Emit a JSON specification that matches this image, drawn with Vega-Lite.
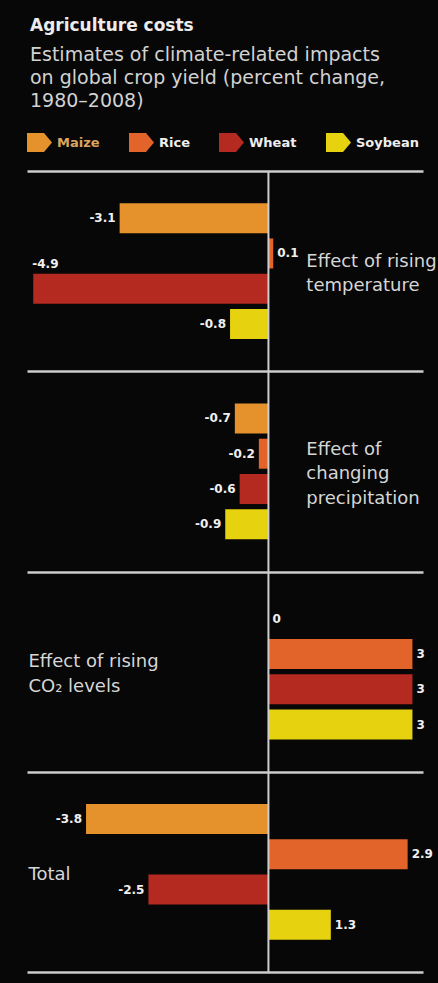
{
  "$schema": "https://vega.github.io/schema/vega-lite/v6.json",
  "width": 396,
  "height": 801,
  "autosize": "none",
  "padding": {"left": 27, "top": 171, "right": 15, "bottom": 11},
  "background": "#070707",
  "config": {
    "view": {"stroke": null},
    "text": {"font": "DejaVu Sans"}
  },
  "title": {
    "text": "Agriculture costs",
    "subtitle": ["Estimates of climate-related impacts", "on global crop yield (percent change,", "1980–2008)"],
    "anchor": "start",
    "dx": 3,
    "offset": 18,
    "font": "DejaVu Sans",
    "fontSize": 17,
    "fontWeight": "bold",
    "color": "#ececec",
    "subtitleFont": "DejaVu Sans",
    "subtitleFontSize": 19,
    "subtitleColor": "#d2d2d2",
    "subtitleLineHeight": 23,
    "subtitlePadding": 11
  },
  "datasets": {
    "yields": [
      {"section": "temperature", "crop": "Maize", "value": -3.1},
      {"section": "temperature", "crop": "Rice", "value": 0.1},
      {"section": "temperature", "crop": "Wheat", "value": -4.9},
      {"section": "temperature", "crop": "Soybean", "value": -0.8},
      {"section": "precipitation", "crop": "Maize", "value": -0.7},
      {"section": "precipitation", "crop": "Rice", "value": -0.2},
      {"section": "precipitation", "crop": "Wheat", "value": -0.6},
      {"section": "precipitation", "crop": "Soybean", "value": -0.9},
      {"section": "co2", "crop": "Maize", "value": 0},
      {"section": "co2", "crop": "Rice", "value": 3},
      {"section": "co2", "crop": "Wheat", "value": 3},
      {"section": "co2", "crop": "Soybean", "value": 3},
      {"section": "total", "crop": "Maize", "value": -3.8},
      {"section": "total", "crop": "Rice", "value": 2.9},
      {"section": "total", "crop": "Wheat", "value": -2.5},
      {"section": "total", "crop": "Soybean", "value": 1.3}
    ],
    "sections": [
      {"section": "temperature", "label": ["Effect of rising", "temperature"]},
      {"section": "precipitation", "label": ["Effect of", "changing", "precipitation"]},
      {"section": "co2", "label": ["Effect of rising", "CO₂ levels"]},
      {"section": "total", "label": ["Total"]}
    ]
  },
  "data": {"name": "yields"},
  "layer": [
    {
      "mark": {"type": "bar"},
      "encoding": {
        "y": {
          "field": "section", "type": "nominal",
          "scale": {"domain": ["temperature", "precipitation", "co2", "total"], "paddingInner": 0, "paddingOuter": 0},
          "axis": {"labels": false, "ticks": false, "domain": false, "title": null, "grid": true, "tickBand": "extent", "gridColor": "#cdcdcd", "gridWidth": 2.5, "gridOpacity": 1}
        },
        "yOffset": {
          "field": "crop", "type": "nominal",
          "scale": {"domain": ["Maize", "Rice", "Wheat", "Soybean"], "paddingInner": 0.15, "paddingOuter": 0.91}
        },
        "x": {"field": "value", "type": "quantitative", "scale": {"domain": [-5.03, 3.22], "nice": false}, "axis": null},
        "color": {
          "field": "crop", "type": "nominal",
          "scale": {"domain": ["Maize", "Rice", "Wheat", "Soybean"], "range": ["#e6922c", "#e2642a", "#b52a20", "#e6d20e"]},
          "legend": {
            "orient": "top",
            "direction": "horizontal",
            "title": null,
            "padding": 0,
            "offset": 19,
            "symbolType": "M-1,-0.76L0.36,-0.76L1,0L0.36,0.76L-1,0.76Z",
            "symbolSize": 625,
            "symbolStrokeWidth": 0,
            "symbolOpacity": 1,
            "labelFont": "DejaVu Sans",
            "labelFontWeight": "bold",
            "labelFontSize": 13,
            "labelOffset": 5,
            "columnPadding": 29,
            "encode": {"labels": {"update": {"fill": {"signal": "datum.value === 'Maize' ? '#dca45e' : '#eeeeee'"}}}}
          }
        }
      }
    },
    {
      "mark": {"type": "rule", "color": "#cdcdcd", "strokeWidth": 2},
      "data": {"values": [{}]},
      "encoding": {"x": {"datum": 0}}
    },
    {
      "transform": [{"filter": "datum.value < 0 && datum.value > -4.5"}],
      "mark": {"type": "text", "align": "right", "baseline": "middle", "dx": -4, "fontWeight": "bold", "fontSize": 12, "color": "#f0f0f0"},
      "encoding": {
        "y": {"field": "section", "type": "nominal"},
        "yOffset": {"field": "crop", "type": "nominal"},
        "x": {"field": "value", "type": "quantitative"},
        "text": {"field": "value", "type": "nominal"}
      }
    },
    {
      "transform": [{"filter": "datum.value >= 0"}],
      "mark": {"type": "text", "align": "left", "baseline": "middle", "dx": 4, "fontWeight": "bold", "fontSize": 12, "color": "#f0f0f0"},
      "encoding": {
        "y": {"field": "section", "type": "nominal"},
        "yOffset": {"field": "crop", "type": "nominal"},
        "x": {"field": "value", "type": "quantitative"},
        "text": {"field": "value", "type": "nominal"}
      }
    },
    {
      "transform": [{"filter": "datum.value <= -4.5"}],
      "mark": {"type": "text", "align": "left", "baseline": "middle", "dx": -1, "dy": -25, "fontWeight": "bold", "fontSize": 12, "color": "#f0f0f0"},
      "encoding": {
        "y": {"field": "section", "type": "nominal"},
        "yOffset": {"field": "crop", "type": "nominal"},
        "x": {"field": "value", "type": "quantitative"},
        "text": {"field": "value", "type": "nominal"}
      }
    },
    {
      "data": {"name": "sections"},
      "transform": [{"filter": "datum.section === 'temperature' || datum.section === 'precipitation'"}],
      "mark": {"type": "text", "align": "left", "baseline": "middle", "dy": {"expr": "3 - (length(datum.label) - 1) * 12.25"}, "fontSize": 18, "lineHeight": 24.5, "color": "#d6d6d6"},
      "encoding": {
        "y": {"field": "section", "type": "nominal"},
        "x": {"datum": 0.79},
        "text": {"field": "label"}
      }
    },
    {
      "data": {"name": "sections"},
      "transform": [{"filter": "datum.section === 'co2' || datum.section === 'total'"}],
      "mark": {"type": "text", "align": "left", "baseline": "middle", "dy": {"expr": "3 - (length(datum.label) - 1) * 12.25"}, "fontSize": 18, "lineHeight": 24.5, "color": "#d6d6d6"},
      "encoding": {
        "y": {"field": "section", "type": "nominal"},
        "x": {"datum": -5.0},
        "text": {"field": "label"}
      }
    }
  ]
}
